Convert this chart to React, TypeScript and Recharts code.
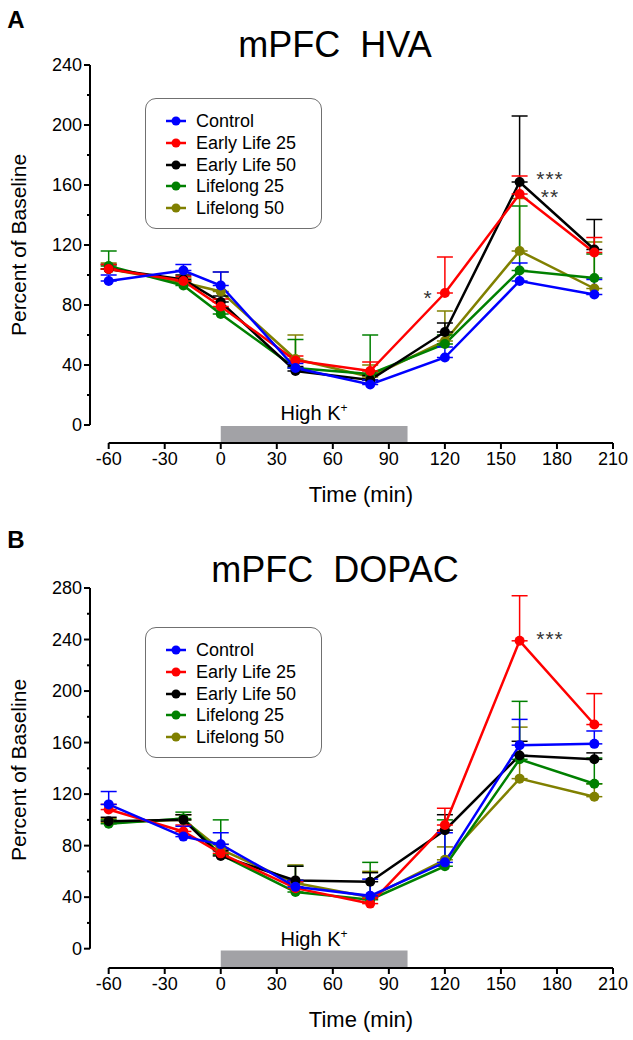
import { LineChart, Line, XAxis, YAxis, ErrorBar, ReferenceLine, ReferenceArea } from 'recharts';

// #region Sample data
const times = [-60, -20, 0, 40, 80, 120, 160, 200];
const xTicks = [-60, -30, 0, 30, 60, 90, 120, 150, 180, 210];
const hvaYTicks = [0, 20, 40, 60, 80, 100, 120, 140, 160, 180, 200, 220, 240];
const dopacYTicks = [0, 20, 40, 60, 80, 100, 120, 140, 160, 180, 200, 220, 240, 260, 280];

const groupNames = ['Control', 'Early Life 25', 'Early Life 50', 'Lifelong 25', 'Lifelong 50'];
const groupColors = ['#0000ff', '#ff0000', '#000000', '#008000', '#808000'];

// mPFC HVA, percent of baseline
const hvaControl = [96, 103, 93, 38, 27, 45, 96, 87];
const hvaEarly25 = [104, 96, 79, 43, 36, 88, 154, 115];
const hvaEarly50 = [104, 97, 82, 36, 30, 62, 162, 117];
const hvaLife25 = [106, 93, 74, 38, 34, 54, 103, 98];
const hvaLife50 = [104, 95, 89, 44, 32, 56, 116, 91];
// SEM (upper only)
const hvaControlSem = [4, 4, 9, 3, 3, 7, 12, 10];
const hvaEarly25Sem = [3, 3, 5, 3, 6, 24, 12, 10];
const hvaEarly50Sem = [3, 3, 4, 3, 3, 6, 44, 20];
const hvaLife25Sem = [10, 3, 4, 19, 26, 6, 43, 16];
const hvaLife50Sem = [4, 3, 13, 16, 8, 20, 35, 31];

// mPFC DOPAC, percent of baseline
const dopacControl = [112, 87, 81, 48, 41, 67, 158, 159];
const dopacEarly25 = [108, 91, 74, 47, 35, 96, 239, 174];
const dopacEarly50 = [99, 100, 72, 53, 52, 92, 150, 147];
const dopacLife25 = [97, 101, 73, 44, 38, 64, 147, 128];
const dopacLife50 = [98, 100, 77, 51, 40, 69, 132, 118];
const dopacControlSem = [10, 8, 9, 5, 13, 23, 20, 10];
const dopacEarly25Sem = [4, 5, 4, 5, 4, 13, 35, 24];
const dopacEarly50Sem = [3, 4, 4, 11, 7, 12, 11, 5];
const dopacLife25Sem = [3, 5, 27, 20, 29, 36, 45, 20];
const dopacLife50Sem = [3, 4, 4, 14, 20, 10, 40, 10];
// #endregion

const buildRows = (vals: number[][], sems: number[][]) =>
  times.map((t, i) => {
    const row: any = { t };
    vals.forEach((v, g) => {
      row['s' + g] = v[i];
      row['e' + g] = [0, sems[g][i]];
    });
    return row;
  });

const hvaRows = buildRows(
  [hvaControl, hvaEarly25, hvaEarly50, hvaLife25, hvaLife50],
  [hvaControlSem, hvaEarly25Sem, hvaEarly50Sem, hvaLife25Sem, hvaLife50Sem]
);
const dopacRows = buildRows(
  [dopacControl, dopacEarly25, dopacEarly50, dopacLife25, dopacLife50],
  [dopacControlSem, dopacEarly25Sem, dopacEarly50Sem, dopacLife25Sem, dopacLife50Sem]
);

const font = '"Liberation Sans", Arial, sans-serif';
const drawOrder = [4, 3, 2, 1, 0];

const YTick = (props: any) => {
  const { x, y, payload } = props;
  const major = payload.value % 40 === 0;
  return (
    <g>
      <line x1={x + (major ? 2 : 5)} x2={x + 8} y1={y} y2={y} stroke="#000" strokeWidth={2} />
      {major && (
        <text x={x} y={y} dy="0.35em" textAnchor="end" fontSize={18} fill="#000" fontFamily={font}>
          {payload.value}
        </text>
      )}
    </g>
  );
};

const LegendBox = ({ top }: { top: number }) => (
  <div
    style={{
      position: 'absolute', left: 145, top, width: 177, height: 131,
      border: '1.5px solid #707070', borderRadius: 11, boxSizing: 'border-box',
    }}
  >
    {groupNames.map((n, i) => (
      <div
        key={n}
        style={{ position: 'absolute', left: 18, top: 11 + i * 21.8, height: 22, display: 'flex', alignItems: 'center' }}
      >
        <svg width={24} height={12}>
          <line x1={2} x2={22} y1={6} y2={6} stroke={groupColors[i]} strokeWidth={2.5} />
          <circle cx={12} cy={6} r={4.5} fill={groupColors[i]} />
        </svg>
        <span style={{ marginLeft: 8, fontSize: 18, lineHeight: '22px' }}>{n}</span>
      </div>
    ))}
  </div>
);

const txt = (x: number, y: number, size: number, content: any, extra: any = {}) => (
  <div
    style={{
      position: 'absolute', left: x, top: y, transform: 'translate(-50%, -50%)',
      fontSize: size, lineHeight: 1, whiteSpace: 'pre', ...extra,
    }}
  >
    {content}
  </div>
);

type PanelProps = {
  top: number;
  letter: string;
  title: string;
  rows: any[];
  yMin: number;
  yMax: number;
  yTicks: number[];
  plotTop: number;
  barTop: number;
  stars: { x: number; y: number; s: string }[];
};

const Panel = ({ top, letter, title, rows, yMin, yMax, yTicks, plotTop, barTop, stars }: PanelProps) => {
  const plotBottom = top === 0 ? 443 : 448;
  return (
    <div style={{ position: 'absolute', left: 0, top, width: 633, height: 520 }}>
      <LineChart
        width={633}
        height={520}
        data={rows}
        margin={{ top: plotTop, right: 20, left: 0, bottom: 520 - plotBottom - 40 }}
      >
        <XAxis
          type="number"
          dataKey="t"
          domain={[-70, 210]}
          ticks={xTicks}
          axisLine={false}
          tickLine={{ stroke: '#000', strokeWidth: 2 }}
          tickSize={6}
          tickMargin={3}
          height={40}
          tick={{ fill: '#000', fontSize: 18, fontFamily: font }}
        />
        <YAxis
          type="number"
          domain={[yMin, yMax]}
          ticks={yTicks}
          axisLine={false}
          tickLine={false}
          tickSize={6}
          tickMargin={2}
          width={90}
          tick={<YTick />}
          interval={0}
        />
        <ReferenceArea x1={0} x2={100} y1={yMin} y2={barTop} fill="#a2a2a6" fillOpacity={1} stroke="none" />
        <ReferenceLine segment={[{ x: -70, y: 0 }, { x: -70, y: yMax }]} stroke="#000" strokeWidth={2} ifOverflow="visible" />
        <ReferenceLine segment={[{ x: -60, y: yMin }, { x: 210, y: yMin }]} stroke="#000" strokeWidth={2} ifOverflow="visible" />
        {drawOrder.map((g) => (
          <Line
            key={g}
            type="linear"
            dataKey={'s' + g}
            name={groupNames[g]}
            stroke={groupColors[g]}
            strokeWidth={2.5}
            dot={{ r: 5, fill: groupColors[g], stroke: groupColors[g], strokeWidth: 0 }}
            isAnimationActive={false}
          >
            <ErrorBar dataKey={'e' + g} direction="y" width={8} stroke={groupColors[g]} strokeWidth={1.5} isAnimationActive={false} />
          </Line>
        ))}
      </LineChart>
      {txt(16, 20, 24, letter, { fontWeight: 'bold' })}
      {txt(335, top === 0 ? 45 : 50, 36, title)}
      {txt(18, top === 0 ? 245 : 250, 21, 'Percent of Baseline', { transform: 'translate(-50%, -50%) rotate(-90deg)' })}
      {txt(314, top === 0 ? 412 : 418, 20, <span>High K<sup style={{ fontSize: 12 }}>+</sup></span>)}
      {txt(361, top === 0 ? 495 : 500, 22, 'Time (min)')}
      {stars.map((s, i) => (
        <div key={i}>
          {txt(s.x, s.y, 21, s.s, { color: '#333', letterSpacing: 1, lineHeight: '18px', textAlign: 'center' })}
        </div>
      ))}
      <LegendBox top={top === 0 ? 98 : 107} />
    </div>
  );
};

export default function App() {
  return (
    <div style={{ position: 'absolute', left: 0, top: 0, width: 633, height: 1040, background: '#fff', fontFamily: font, color: '#000' }}>
      <Panel
        top={0}
        letter="A"
        title="mPFC  HVA"
        rows={hvaRows}
        yMin={-12}
        yMax={240}
        yTicks={hvaYTicks}
        plotTop={65}
        barTop={-0.7}
        stars={[
          { x: 428, y: 298, s: '*' },
          { x: 550, y: 188, s: '***\n**' },
        ]}
      />
      <Panel
        top={520}
        letter="B"
        title="mPFC  DOPAC"
        rows={dopacRows}
        yMin={-15}
        yMax={280}
        yTicks={dopacYTicks}
        plotTop={68}
        barTop={-1.5}
        stars={[{ x: 550, y: 119, s: '***' }]}
      />
    </div>
  );
}
